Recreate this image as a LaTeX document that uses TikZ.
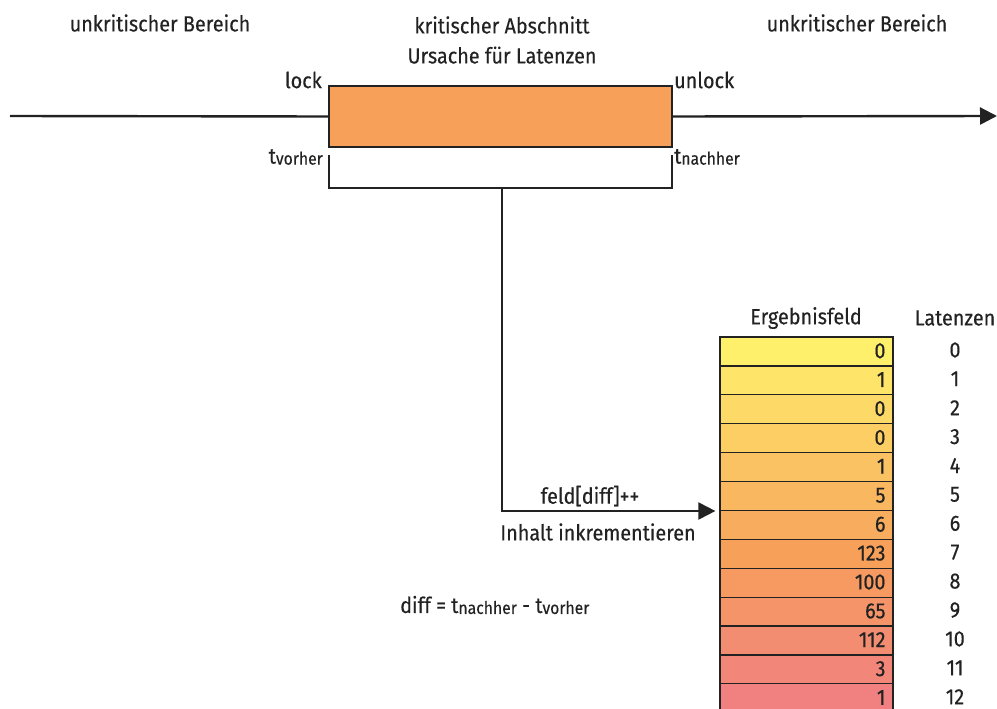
\documentclass[tikz,border=0pt]{standalone}
\usepackage{fontspec}
\setmainfont{Fira Sans}[FakeStretch=0.9, FakeBold=0.35]
\usetikzlibrary{arrows.meta,positioning}

\definecolor{critOrange}{HTML}{F7A05A}
\definecolor{ergYellow}{HTML}{FFF06C}
\definecolor{ergRose}{HTML}{F18080}
\definecolor{lineGray}{HTML}{222222}

% t with a small index, as in t_vorher
\newcommand{\tidx}[1]{t\raisebox{-1pt}{\fontsize{17.5}{18}\selectfont #1}}

\begin{document}
\begin{tikzpicture}[x=1pt,y=-1pt,
  lbl/.style={font=\fontsize{22}{26}\selectfont, inner sep=0pt, text=lineGray},
  timeline/.style={line width=2.4pt, draw=lineGray},
  arr/.style={timeline, -{Triangle[length=17pt,width=17pt]}},
  critbox/.style={draw=lineGray, line width=1.2pt, fill=critOrange,
    minimum width=343pt, minimum height=61pt, inner sep=0pt},
  cell/.style={draw=lineGray, line width=1.2pt, minimum width=173pt,
    minimum height=28.9pt, inner xsep=0pt, inner ysep=0pt,
    text width=158pt, align=right, text=lineGray, font=\fontsize{22}{26}\selectfont}]
\useasboundingbox (0,0) rectangle (997,709);
\clip (0,0) rectangle (997,709);

\coordinate (start) at (10,116); % left end of the time line
\coordinate (end) at (997,116); % arrow tip on the right

% the critical section
\node[critbox] (crit) at (500.5,116.5) {};
\draw[timeline] (start) -- (crit.west);
\draw[arr] (crit.east) -- (end);

% headings
\node[lbl] (leftArea) at (160,23) {unkritischer Bereich};
\node[lbl] (rightArea) at (857,23) {unkritischer Bereich};
\node[lbl, align=center] (critHead) at (502,40) {kritischer Abschnitt\\[4pt]Ursache für Latenzen};

\node[lbl, anchor=east] (lock) at (322,80) {lock};
\node[lbl, anchor=west] (unlock) at (674,80) {unlock};
\node[lbl, anchor=east] (tBefore) at (323,157) {\tidx{vorher}};
\node[lbl, anchor=west] (tAfter) at (674,157) {\tidx{nachher}};

% bracket below the box
\coordinate (brL) at (329,155);
\coordinate (brR) at (672,155);
\coordinate (brM) at (502,188);
\draw[timeline, line width=2pt] (brL) -- ++(0,33) -| (brR);

% result array
\node[lbl] (fieldHead) at (806,318) {Ergebnisfeld};
\node[lbl] (latHead) at (955,318) {Latenzen};
\foreach \v [count=\i from 0] in {0,1,0,0,1,5,6,123,100,65,112,3,1}{
  \ifnum\i<8
    \pgfmathtruncatemacro\p{100*\i/7}
    \colorlet{rowCol}{critOrange!\p!ergYellow}
  \else
    \pgfmathtruncatemacro\p{100*(\i-7)/5}
    \colorlet{rowCol}{ergRose!\p!critOrange}
  \fi
  \node[cell, fill=rowCol] (cell\i) at (806.5,351.45+28.9*\i) {\raisebox{1.5pt}{\v}};
  \node[lbl] (lat\i) at (955,349.95+28.9*\i) {\i};
}

% increment arrow
\draw[arr, line width=2pt] (brM) |- ([xshift=-4pt]cell5.south west);
\node[lbl] (incr) at (590,496) {feld[diff]++};
\node[lbl] (incrText) at (598,532) {Inhalt inkrementieren};

\node[lbl, anchor=west] (diff) at (400,605) {diff = \tidx{nachher} - \tidx{vorher}};
\end{tikzpicture}
\end{document}
